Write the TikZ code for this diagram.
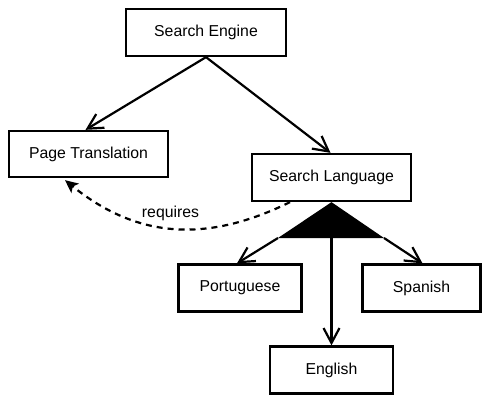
\documentclass[tikz,border=0pt]{standalone}
\usepackage{fontspec}
\setmainfont{Liberation Sans}
\usetikzlibrary{arrows.meta}
\begin{document}
\begin{tikzpicture}[x=1pt,y=-1pt,
  every node/.style={font=\fontsize{15.8}{18}\selectfont},
  box/.style={draw,line width=2.3pt,rectangle,inner sep=0pt},
  link/.style={line width=2.2pt,-{Straight Barb[length=15pt,width=16pt]}},
  dep/.style={line width=2.2pt,dash pattern=on 6pt off 5pt,-{Stealth[length=13pt,width=12pt,inset=3pt]}}]
\useasboundingbox (0,0) rectangle (482,396);

% feature boxes
\node[box,minimum width=160pt,minimum height=47pt] (se) at (206,32.5) {Search Engine};
\node[box,minimum width=159pt,minimum height=46pt] (pt) at (88.5,154) {Page Translation};
\node[box,minimum width=159pt,minimum height=47pt] (sl) at (331.5,177.5) {Search Language};
\node[box,minimum width=123pt,minimum height=47pt] (po) at (240,288) {Portuguese};
\node[box,minimum width=118pt,minimum height=47pt] (sp) at (421.5,288) {Spanish};
\node[box,minimum width=123pt,minimum height=47pt] (en) at (331.5,370) {English};

% mandatory sub-features
\draw[link] (se.south) -- ([xshift=-3pt]pt.north);
\draw[link] (se.south) -- ([xshift=-1pt]sl.north);

% alternative group: filled triangle under Search Language
\coordinate (tl) at (278,238);
\coordinate (tm) at (331.5,238);
\coordinate (tr) at (384,238);
\fill (sl.south) -- (tl) -- (tr) -- cycle;
\draw[link] (tl) -- ([xshift=-3pt]po.north);
\draw[link] (tm) -- (en.north);
\draw[link] (tr) -- ([xshift=1pt]sp.north);

% cross-tree constraint
\coordinate (rqa) at ([xshift=-41.5pt]sl.south);
\coordinate (rqb) at ([xshift=-23.5pt,yshift=-2pt]pt.south);
\draw[dep] (rqa) .. controls (209,242) and (139,240) .. (rqb);
\node (rq) at (170.5,213) {requires};
\end{tikzpicture}
\end{document}
